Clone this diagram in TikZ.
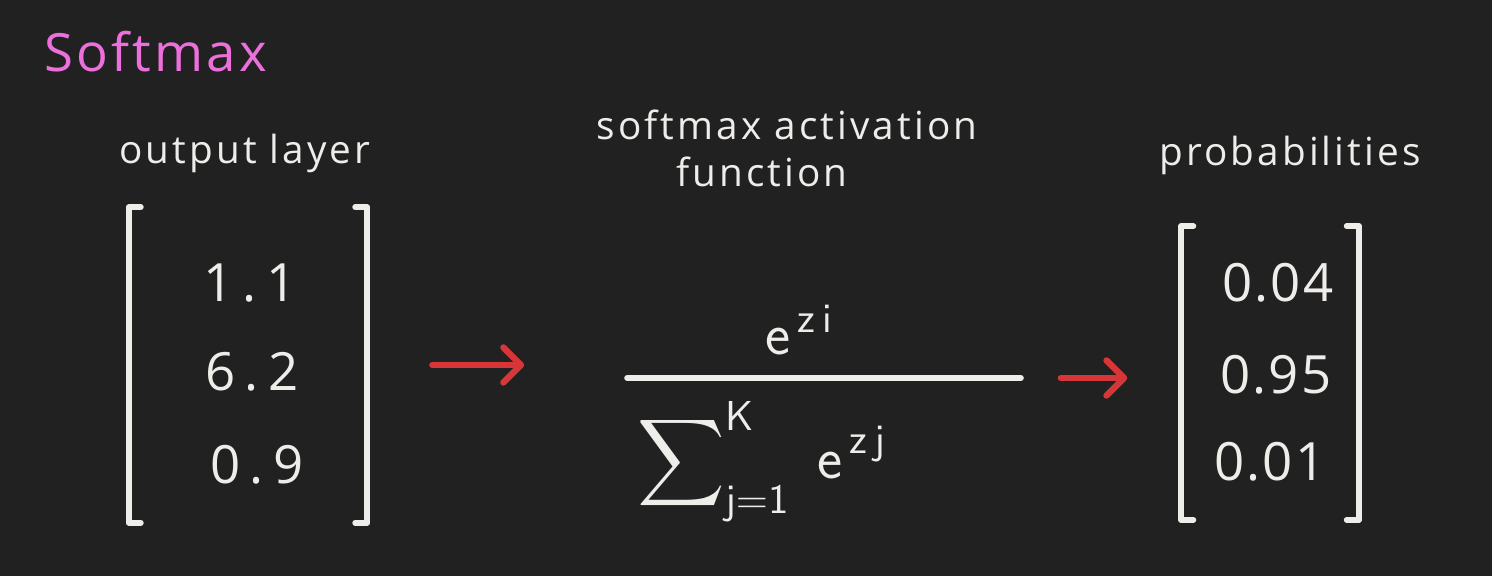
\documentclass[tikz,border=0pt]{standalone}
\usepackage{amsmath}
\usepackage{fontspec}
\setmainfont{Open Sans}
\usetikzlibrary{arrows.meta}
\definecolor{board}{HTML}{212121}
\definecolor{ink}{HTML}{EFEDEA}
\definecolor{pen}{HTML}{D63638}
\definecolor{marker}{HTML}{EC70DC}
\begin{document}
\begin{tikzpicture}[x=0.01cm, y=-0.01cm, >={Straight Barb[round,length=5pt,width=10pt]},
  chalk/.style={draw=ink, line width=1.7pt, line cap=round, line join=round},
  redarrow/.style={->, draw=pen, line width=1.8pt, line cap=round},
  lbl/.style={text=ink, font=\fontsize{11}{13}\selectfont\addfontfeature{LetterSpace=8}},
  num/.style={text=ink, font=\fontsize{15}{18}\selectfont\addfontfeature{LetterSpace=18}},
  prob/.style={text=ink, font=\fontsize{15}{18}\selectfont\addfontfeature{LetterSpace=4}}]
\fill[board] (0,0) rectangle (1492,576);
\useasboundingbox (0,0) rectangle (1492,576);
% headings
\node[text=marker, anchor=west, font=\fontsize{15}{18}\selectfont\addfontfeature{LetterSpace=6}] (title) at (32,52) {Softmax};
\node[lbl] (outlbl) at (245,153) {output layer};
\node[lbl] (actlbl) at (787,125) {softmax activation};
\node[lbl] (fnlbl) at (762,172) {function};
\node[lbl] (problbl) at (1290,155) {probabilities};
% output layer vector
\node[minimum width=2.37cm, minimum height=3.14cm] (outvec) at (248,365) {};
\draw[chalk] ([xshift=0.12cm]outvec.north west) -- (outvec.north west) -- (outvec.south west) -- ([xshift=0.12cm]outvec.south west);
\draw[chalk] ([xshift=-0.12cm]outvec.north east) -- (outvec.north east) -- (outvec.south east) -- ([xshift=-0.12cm]outvec.south east);
\node[num] (o1) at (250,283) {1.1};
\node[num] (o2) at (252,372) {6.2};
\node[num] (o3) at (257,465) {0.9};
% softmax function
\node[minimum width=3.92cm, minimum height=0cm, inner sep=0pt] (fn) at (824,378) {};
\draw[chalk] (fn.west) -- (fn.east);
\node[text=ink, font=\fontsize{17}{20}\selectfont] (numer) at (800,330) {$\mathsf{e}^{\,\mathsf{z}\,\mathsf{i}}$};
\node[text=ink, font=\fontsize{17}{20}\selectfont] (denom) at (762,462) {$\displaystyle\sum\nolimits_{\mathsf{j=1}}^{\mathsf{K}}\;\mathsf{e}^{\,\mathsf{z}\,\mathsf{j}}$};
% probability vector
\node[minimum width=1.76cm, minimum height=2.92cm] (probvec) at (1270,373) {};
\draw[chalk] ([xshift=0.12cm]probvec.north west) -- (probvec.north west) -- (probvec.south west) -- ([xshift=0.12cm]probvec.south west);
\draw[chalk] ([xshift=-0.12cm]probvec.north east) -- (probvec.north east) -- (probvec.south east) -- ([xshift=-0.12cm]probvec.south east);
\node[prob] (p1) at (1278,283) {0.04};
\node[prob] (p2) at (1276,375) {0.95};
\node[prob] (p3) at (1270,462) {0.01};
% arrows
\draw[redarrow] ([xshift=0.65cm]outvec.east) -- ([xshift=-1.03cm]fn.west |- outvec.east);
\draw[redarrow] ([xshift=0.4cm]fn.east) -- ([xshift=-0.54cm]probvec.west |- fn.east);
\end{tikzpicture}
\end{document}
